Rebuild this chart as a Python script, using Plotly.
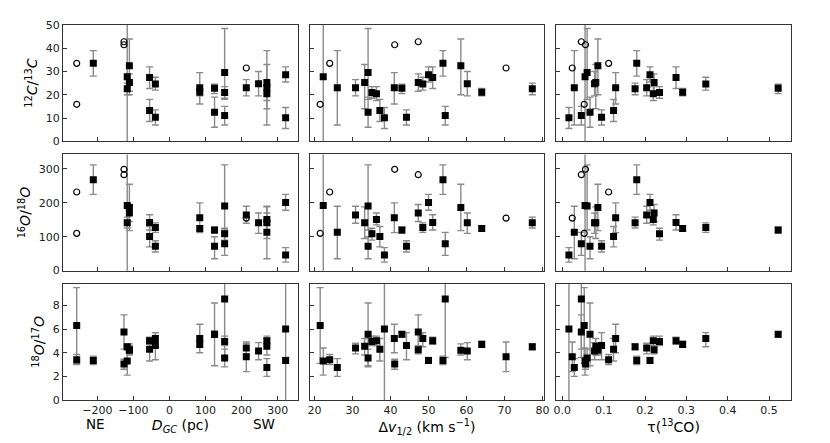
import plotly.graph_objects as go
from plotly.subplots import make_subplots

# sources with measured ratios (filled squares)
dgc = [322, 270, 153, -117, 153, 125, 247, 270, -111, -39, -55, 84,
       -211, -117, 213, 322, 270, -111, 153, -55, 84, -39, 125]
dv = [38.4, 26.0, 54.4, 22.3, 34.1, 34.1, 60.2, 33.2, 58.5, 44.2, 37.2, 41.0,
      53.8, 77.3, 30.8, 50.0, 36.3, 47.3, 35.1, 51.1, 64.0, 48.5, 43.0]
tau = [0.016, 0.029, 0.046, 0.055, 0.060, 0.067, 0.078, 0.081, 0.086, 0.095, 0.124, 0.129,
       0.180, 0.176, 0.204, 0.212, 0.220, 0.222, 0.235, 0.275, 0.291, 0.347, 0.522]

c_ratio = [10.1, 23.0, 11.1, 27.7, 29.6, 12.5, 24.7, 25.3, 32.5, 10.3, 13.2, 23.0,
           33.5, 22.6, 23.0, 28.6, 20.4, 25.3, 21.0, 27.4, 21.1, 24.6, 22.8]
c_lo = [5.5, 7.0, 7.0, -10, 18.0, 6.0, 19.5, 14.0, 20.0, 7.0, 8.5, 16.0,
        28.0, 20.0, 19.5, 25.5, 17.5, 21.5, 18.5, 22.7, 19.5, 22.0, 20.5]
c_hi = [14.5, 39.0, 15.0, 100, 48.5, 19.0, 30.0, 33.0, 44.0, 13.5, 18.0, 29.5,
        39.0, 25.0, 26.5, 32.0, 23.5, 29.0, 23.5, 32.0, 22.7, 27.5, 24.5]

o18_ratio = [46, 113, 79, 192, 191, 72, 141, 141, 186, 72, 101, 156,
             268, 141, 164, 201, 151, 170, 109, 142, 124, 127, 120]
o18_lo = [25, 35, 45, -50, 120, 35, 110, 95, 118, 55, 70, 112,
          225, 126, 140, 178, 135, 145, 90, 120, 118, 113, 110]
o18_hi = [68, 190, 113, 700, 312, 100, 170, 188, 255, 88, 130, 200,
          312, 158, 190, 225, 170, 195, 125, 165, 132, 141, 128]

# sources shown as open circles in the upper rows
dgc_open = [213, -126, -257, -126, -257]
dv_open = [70.4, 47.3, 21.5, 41.1, 24.0]
tau_open = [0.024, 0.046, 0.053, 0.056, 0.112]
c_open = [31.5, 42.8, 15.9, 41.5, 33.5]
o18_open = [155, 283, 110, 299, 232]

# 18O/17O for all sources (filled + open ones)
o17_ratio = [6.0, 2.75, 8.55, 3.3, 3.55, 5.55, 4.15, 4.55, 4.2, 4.6, 4.3, 5.2,
             3.35, 4.5, 4.4, 3.35, 5.0, 4.25, 4.95, 5.0, 4.7, 5.2, 5.55,
             3.65, 5.75, 6.3, 3.05, 3.4]
o17_lo = [-1, 2.0, 3.6, 2.1, 2.8, 2.9, 3.4, 3.8, 3.8, 3.4, 3.3, 4.0,
          3.0, 4.25, 3.9, 3.1, 4.6, 3.9, 4.6, 4.7, 4.5, 4.5, 5.3,
          2.4, 4.3, 3.1, 2.6, 3.0]
o17_hi = [20, 3.5, 20, 4.4, 4.3, 8.2, 4.85, 5.2, 4.75, 5.7, 5.2, 6.4,
          3.7, 4.75, 4.8, 3.6, 5.4, 4.6, 5.4, 5.3, 5.0, 5.7, 5.75,
          4.9, 7.2, 9.5, 3.45, 3.85]

x_cols = [(dgc, dgc_open), (dv, dv_open), (tau, tau_open)]
x_ranges = [[-295, 356], [18.7, 80.5], [-0.015, 0.553]]
x_dticks = [100, 10, 0.1]
x_titles = ["<i>D</i><sub><i>GC</i></sub> (pc)",
            "Δ<i>v</i><sub>1/2</sub> (km s<sup>−1</sup>)",
            "τ(<sup>13</sup>CO)"]

rows = [
    (c_ratio, c_lo, c_hi, c_open),
    (o18_ratio, o18_lo, o18_hi, o18_open),
]

fig = make_subplots(rows=3, cols=3, shared_yaxes=True,
                    horizontal_spacing=0.016, vertical_spacing=0.035)

err_style = dict(type="data", symmetric=False, color="#8a8a8a", thickness=1.4, width=3.5)
sq = dict(symbol="square", size=7, color="black")
circ = dict(symbol="circle-open", size=6, color="black", line=dict(width=1.2))

for c, (xs, xs_open) in enumerate(x_cols, start=1):
    for r, (vals, lo, hi, opens) in enumerate(rows, start=1):
        fig.add_trace(go.Scatter(
            x=xs, y=vals, mode="markers", marker=sq, showlegend=False,
            error_y=dict(err_style, array=[h - v for h, v in zip(hi, vals)],
                         arrayminus=[v - l for v, l in zip(vals, lo)])),
            row=r, col=c)
        fig.add_trace(go.Scatter(
            x=xs_open, y=opens, mode="markers", marker=circ, showlegend=False),
            row=r, col=c)
    fig.add_trace(go.Scatter(
        x=list(xs) + list(xs_open), y=o17_ratio, mode="markers", marker=sq, showlegend=False,
        error_y=dict(err_style, array=[h - v for h, v in zip(o17_hi, o17_ratio)],
                     arrayminus=[v - l for v, l in zip(o17_ratio, o17_lo)])),
        row=3, col=c)

axis_common = dict(showline=True, linecolor="#333", linewidth=1, mirror=True,
                   ticks="inside", ticklen=4, tickcolor="#333", showgrid=False,
                   zeroline=False, automargin=False, tickfont=dict(size=11, color="#222"))

for c in range(1, 4):
    for r in range(1, 4):
        fig.update_xaxes(axis_common, range=x_ranges[c - 1], dtick=x_dticks[c - 1],
                         showticklabels=(r == 3), row=r, col=c)
    fig.update_xaxes(title=dict(text=x_titles[c - 1], font=dict(size=14, color="black"), standoff=1),
                     row=3, col=c)
fig.update_xaxes(tickformat=".1f", row=3, col=3)

y_specs = [([0, 50], 10, "<sup>12</sup><i>C</i>/<sup>13</sup><i>C</i>"),
           ([0, 343], 100, "<sup>16</sup><i>O</i>/<sup>18</sup><i>O</i>"),
           ([0, 9.83], 2, "<sup>18</sup><i>O</i>/<sup>17</sup><i>O</i>")]
for r, (yr, dt, yt) in enumerate(y_specs, start=1):
    for c in range(1, 4):
        fig.update_yaxes(axis_common, range=yr, dtick=dt, row=r, col=c)
    fig.update_yaxes(title=dict(text=yt, font=dict(size=14, color="black"), standoff=4),
                     row=r, col=1)

fig.add_annotation(text="NE", x=-205, y=-0.063, xref="x7", yref="paper", yanchor="middle",
                   showarrow=False, font=dict(size=13.5, color="black"))
fig.add_annotation(text="SW", x=262, y=-0.063, xref="x7", yref="paper", yanchor="middle",
                   showarrow=False, font=dict(size=13.5, color="black"))

fig.update_layout(
    width=830, height=443,
    margin=dict(l=63, r=39, t=25, b=43),
    plot_bgcolor="white", paper_bgcolor="white",
    font=dict(family="DejaVu Sans", color="black"),
)

fig.write_html("out.html", config={"displayModeBar": False},
               post_script="document.body.style.margin='0';")
